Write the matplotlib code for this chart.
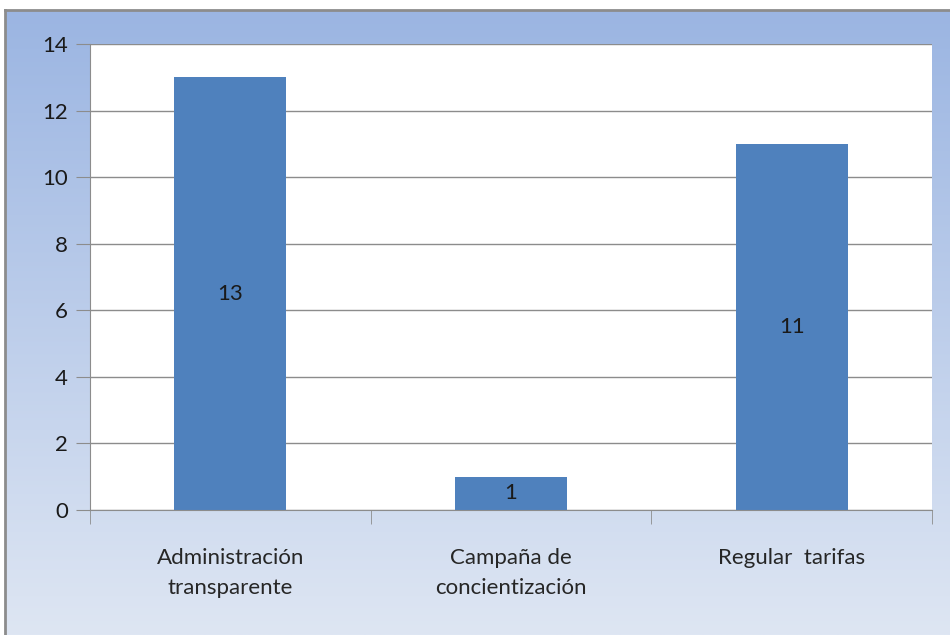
import numpy as np
import matplotlib.pyplot as plt

# data
categories = ['Administración\ntransparente', 'Campaña de\nconcientización', 'Regular  tarifas']
values = [13, 1, 11]
yticks = [0, 2, 4, 6, 8, 10, 12, 14]

plt.rcParams['font.family'] = ['Lato', 'DejaVu Sans']

W, H = 950, 635
fig = plt.figure(figsize=(W / 100, H / 100), dpi=100)

# gradient frame behind the chart
bg = fig.add_axes([5 / W, 0, 945 / W, 625 / H], zorder=0)
top = np.array([155, 181, 226]) / 255
bottom = np.array([222, 230, 243]) / 255
grad = np.linspace(0, 1, 256)[:, None, None]
img = top * (1 - grad) + bottom * grad
img = np.repeat(img, 2, axis=1)
bg.imshow(img, aspect='auto', extent=[0, 1, 0, 1])
bg.set_xticks([])
bg.set_yticks([])
for s in bg.spines.values():
    s.set_color('#8c8c8c')
    s.set_linewidth(2)
bg.spines['right'].set_visible(False)
bg.spines['bottom'].set_visible(False)

# plot area
ax = fig.add_axes([90 / W, (H - 510) / H, (932 - 90) / W, (510 - 44) / H], zorder=1)
ax.set_facecolor('white')
x = np.arange(len(categories))
bars = ax.bar(x, values, width=0.4, color='#4f81bd', zorder=2)
for b, v in zip(bars, values):
    ax.text(b.get_x() + b.get_width() / 2, v / 2, str(v), ha='center', va='center',
            fontsize=16, color='#1a1a1a', zorder=3)

ax.set_xlim(-0.5, len(categories) - 0.5)
ax.set_ylim(0, 14)
ax.set_yticks(yticks)
ax.set_yticklabels([str(t) for t in yticks], fontsize=16, color='#1a1a1a')
ax.yaxis.grid(True, color='#8c8c8c', linewidth=1, zorder=0)
ax.set_axisbelow(True)
ax.tick_params(axis='y', length=10, color='#8c8c8c', pad=6)

ax.set_xticks(x)
ax.set_xticklabels(categories, fontsize=16, color='#262626', linespacing=1.65)
ax.set_xticks(np.arange(-0.5, len(categories)), minor=True)
ax.tick_params(axis='x', which='major', length=0, pad=27)
ax.tick_params(axis='x', which='minor', length=10, color='#8c8c8c')

for name in ['top', 'right']:
    ax.spines[name].set_visible(False)
ax.spines['left'].set_color('#8c8c8c')
ax.spines['bottom'].set_color('#8c8c8c')

fig.savefig('out.png', dpi=100)
